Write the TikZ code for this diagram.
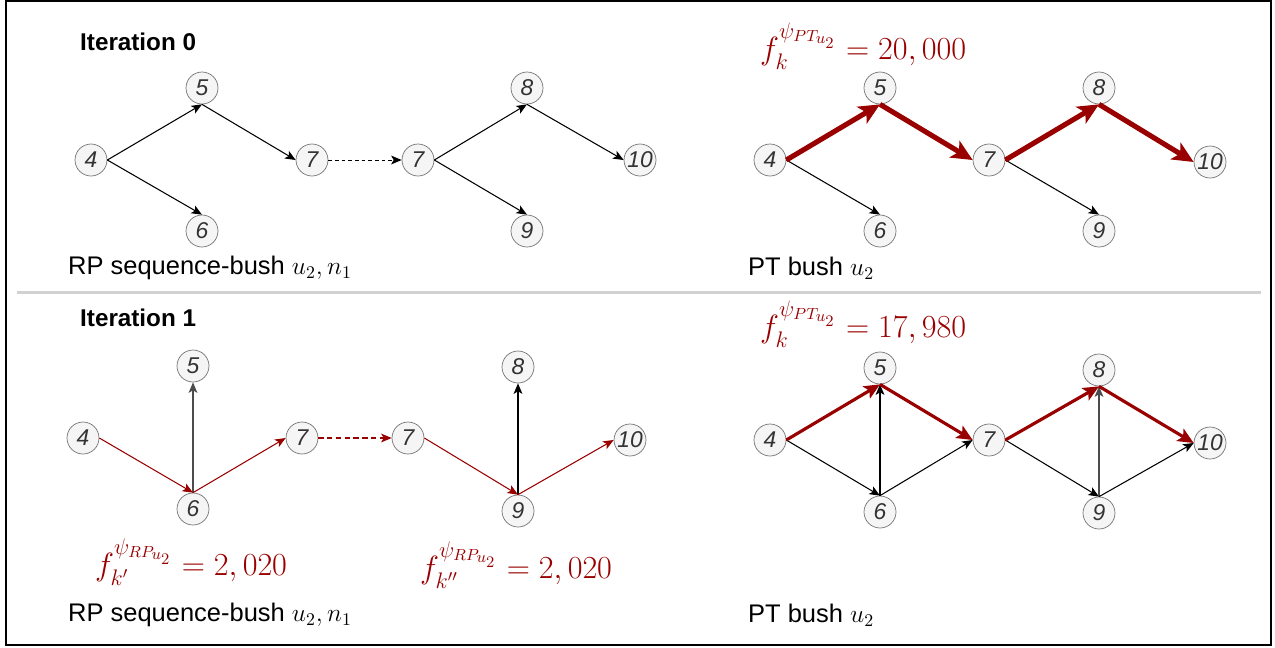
\RequirePackage{fix-cm}
\documentclass[tikz,border=0pt]{standalone}
\usepackage{amsmath}
\usepackage{fontspec}
\setmainfont{Liberation Sans}
\usetikzlibrary{arrows.meta}
\definecolor{flowred}{RGB}{153,0,0}
\definecolor{vtxfill}{RGB}{245,245,245}

\begin{document}
\begin{tikzpicture}[
  x=0.02cm, y=-0.02cm,
  vtx/.style={circle, draw=black!55, fill=vtxfill, minimum size=0.64cm, inner sep=0pt, text=black!80, font=\fontsize{13}{13}\selectfont\itshape},
  itertitle/.style={anchor=west, font=\fontsize{13.8}{16}\selectfont\bfseries},
  bushlbl/.style={anchor=west, font=\fontsize{14.5}{17}\selectfont},
  flowlbl/.style={anchor=west, text=flowred, font=\fontsize{18.3}{21}\selectfont},
  arr/.style={-{Stealth[length=6pt, width=5pt, inset=1.5pt]}, line width=0.6pt},
  redarr/.style={arr, draw=flowred},
  heavyflow/.style={-{Stealth[length=12pt, width=11pt, inset=3pt]}, line width=2.9pt, draw=flowred},
  medflow/.style={-{Stealth[length=9pt, width=8pt, inset=2pt]}, line width=1.8pt, draw=flowred},
  seqlink/.style={arr, line width=0.5pt, dash pattern=on 2pt off 1.8pt}
]
\useasboundingbox (0,0) rectangle (1275,647);
\draw[line width=0.8pt] (6,1) rectangle (1271,645);
\draw[black!18, line width=1.7pt] (17,292) -- (1261,292);

\node[itertitle] (it0) at (74,42) {Iteration 0};
\node[itertitle] (it1) at (74,318) {Iteration 1};
\node[bushlbl] (rpa) at (62,268) {RP sequence-bush $u_2, n_1$};
\node[bushlbl] (pta) at (742,268) {PT bush $u_2$};
\node[bushlbl] (rpb) at (62,615) {RP sequence-bush $u_2, n_1$};
\node[bushlbl] (ptb) at (742,615) {PT bush $u_2$};

\node[flowlbl] (fa) at (754,46) {$f_k^{\psi_{PT_{u_2}}} = 20,000$};
\node[flowlbl] (fb) at (754,324) {$f_k^{\psi_{PT_{u_2}}} = 17,980$};
\node[flowlbl] (fc) at (89,562) {$f_{k'}^{\psi_{RP_{u_2}}} = 2,020$};
\node[flowlbl] (fd) at (414,565) {$f_{k''}^{\psi_{RP_{u_2}}} = 2,020$};

\node[vtx] (ra4) at (91,160) {4};
\node[vtx] (ra5) at (202,88) {5};
\node[vtx] (ra6) at (202,231) {6};
\node[vtx] (ra7) at (312,160) {7};
\node[vtx] (ra7x) at (418,160) {7};
\node[vtx] (ra8) at (527,88) {8};
\node[vtx] (ra9) at (527,231) {9};
\node[vtx] (ra10) at (640,160) {10};

\node[vtx] (pa4) at (770,160) {4};
\node[vtx] (pa5) at (880,88) {5};
\node[vtx] (pa6) at (880,231) {6};
\node[vtx] (pa7) at (989,160) {7};
\node[vtx] (pa8) at (1099,88) {8};
\node[vtx] (pa9) at (1099,231) {9};
\node[vtx] (pa10) at (1210,162) {10};

\node[vtx] (rb4) at (83,438) {4};
\node[vtx] (rb5) at (193,366) {5};
\node[vtx] (rb6) at (193,509) {6};
\node[vtx] (rb7) at (302,438) {7};
\node[vtx] (rb7x) at (408,438) {7};
\node[vtx] (rb8) at (518,367) {8};
\node[vtx] (rb9) at (518,511) {9};
\node[vtx] (rb10) at (630,440) {10};

\node[vtx] (pb4) at (770,440) {4};
\node[vtx] (pb5) at (880,368) {5};
\node[vtx] (pb6) at (880,512) {6};
\node[vtx] (pb7) at (989,440) {7};
\node[vtx] (pb8) at (1099,370) {8};
\node[vtx] (pb9) at (1099,513) {9};
\node[vtx] (pb10) at (1210,443) {10};

\draw[arr] (ra4.east) -- (ra5.south);
\draw[arr] (ra4.east) -- (ra6.north);
\draw[arr] (ra5.south) -- (ra7.west);
\draw[seqlink] (ra7.east) -- (ra7x.west);
\draw[arr] (ra7x.east) -- (ra8.south);
\draw[arr] (ra7x.east) -- (ra9.north);
\draw[arr] (ra8.south) -- (ra10.west);

\draw[arr] (pa4.east) -- (pa6.north);
\draw[arr] (pa7.east) -- (pa9.north);
\draw[heavyflow] (pa4.east) -- (pa5.south);
\draw[heavyflow] (pa5.south) -- (pa7.west);
\draw[heavyflow] (pa7.east) -- (pa8.south);
\draw[heavyflow] (pa8.south) -- (pa10.west);

\draw[arr, draw=black!70] (rb6.north) -- (rb5.south);
\draw[arr] (rb9.north) -- (rb8.south);
\draw[redarr] (rb4.east) -- (rb6.north);
\draw[redarr] (rb6.north) -- (rb7.west);
\draw[redarr, dash pattern=on 3pt off 2pt] (rb7.east) -- (rb7x.west);
\draw[redarr] (rb7x.east) -- (rb9.north);
\draw[redarr] (rb9.north) -- (rb10.west);

\draw[arr] (pb4.east) -- (pb6.north);
\draw[arr] (pb6.north) -- (pb5.south);
\draw[arr] (pb6.north) -- (pb7.west);
\draw[arr] (pb7.east) -- (pb9.north);
\draw[arr, draw=black!70] (pb9.north) -- (pb8.south);
\draw[arr] (pb9.north) -- (pb10.west);
\draw[medflow] (pb4.east) -- (pb5.south);
\draw[medflow] (pb5.south) -- (pb7.west);
\draw[medflow] (pb7.east) -- (pb8.south);
\draw[medflow] (pb8.south) -- (pb10.west);
\end{tikzpicture}
\end{document}
